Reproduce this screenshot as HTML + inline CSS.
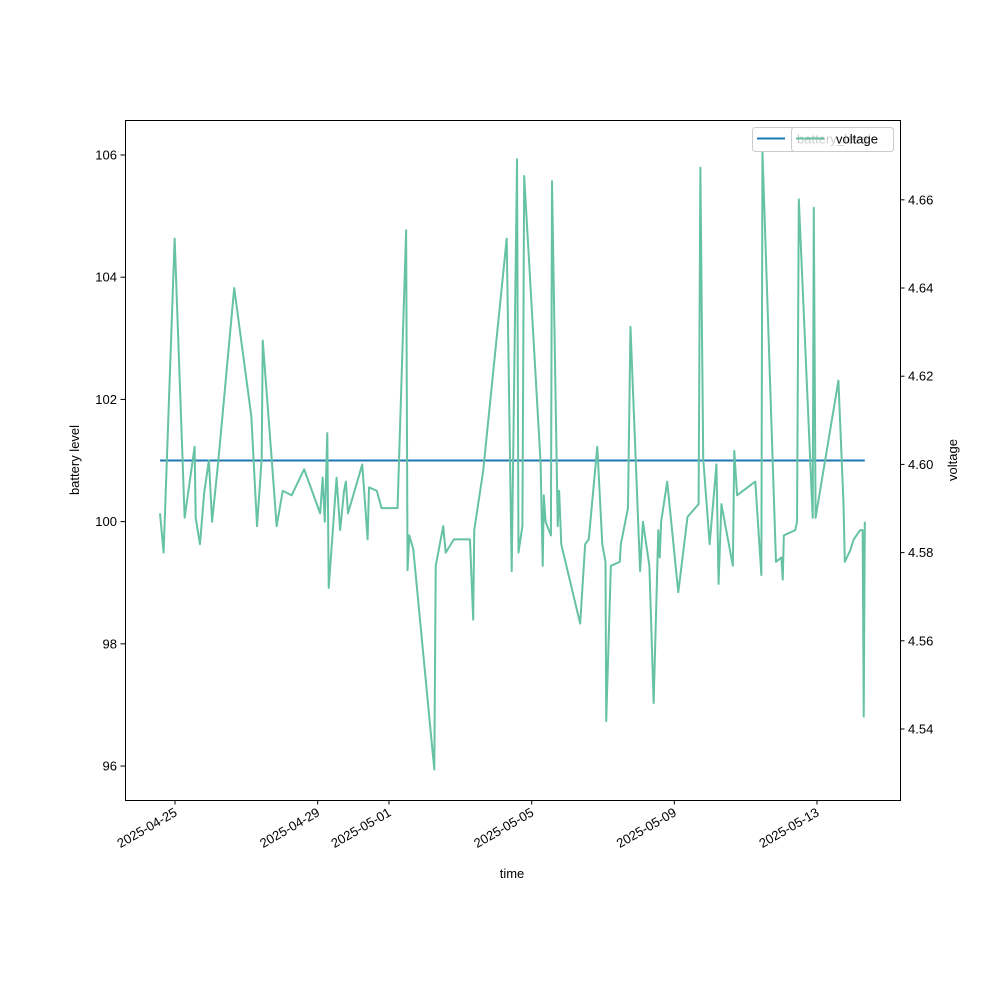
<!DOCTYPE html>
<html><head><meta charset="utf-8"><style>
html,body{margin:0;padding:0;background:#fff;}
svg{display:block;font-family:"Liberation Sans","DejaVu Sans",sans-serif;}
</style></head><body>
<svg id="chart" width="1000" height="1000" viewBox="0 0 1000 1000" xmlns="http://www.w3.org/2000/svg">
<rect x="0" y="0" width="1000" height="1000" fill="#fff"/>
<g id="plot"></g>
<rect x="125.5" y="120.5" width="775" height="680" fill="none" stroke="#000" stroke-width="1"/>
<text x="512" y="878" font-size="13" text-anchor="middle">time</text>
<text x="79" y="460" font-size="13" text-anchor="middle" transform="rotate(-90 79 460)">battery level</text>
<text x="957" y="460" font-size="13" text-anchor="middle" transform="rotate(-90 957 460)">voltage</text>
<g>
<rect x="752.5" y="127.5" width="141" height="24" rx="3" fill="#fff" fill-opacity="0.8" stroke="#ccc"/>
<line x1="757" y1="138.5" x2="785" y2="138.5" stroke="#1f77b4" stroke-width="2"/>
<text x="797" y="143.5" font-size="13" fill="#000">battery_level</text>
</g>
<g>
<rect x="791.5" y="127.5" width="102" height="24" rx="3" fill="#fff" fill-opacity="0.8" stroke="#ccc"/>
<line x1="796" y1="138.5" x2="824" y2="138.5" stroke="#66c2a5" stroke-width="2"/>
<text x="836" y="143.5" font-size="13" fill="#000">voltage</text>
</g>
</svg>
<script>
const days = [-0.42,-0.32,-0.01,0.27,0.55,0.58,0.70,0.82,0.95,1.04,1.22,1.66,2.14,2.30,2.43,2.46,2.71,2.85,3.02,3.27,3.62,4.07,4.14,4.20,4.27,4.31,4.53,4.63,4.74,4.79,4.85,5.25,5.40,5.44,5.66,5.79,6.24,6.48,6.52,6.57,6.68,7.27,7.31,7.52,7.59,7.82,8.27,8.36,8.39,8.64,9.30,9.44,9.59,9.63,9.74,9.79,10.25,10.31,10.34,10.39,10.54,10.57,10.73,10.77,10.83,11.36,11.50,11.60,11.84,11.98,12.07,12.09,12.22,12.47,12.50,12.70,12.77,13.04,13.12,13.30,13.42,13.55,13.59,13.63,13.80,14.11,14.37,14.68,14.73,14.81,14.99,15.18,15.24,15.32,15.64,15.68,15.76,16.27,16.44,16.47,16.85,17.00,17.04,17.07,17.39,17.44,17.49,17.88,17.91,17.96,18.60,18.74,18.78,18.93,19.03,19.21,19.28,19.31,19.34];
const voltage = [4.5889,4.5800,4.6512,4.5879,4.6040,4.5879,4.5819,4.5937,4.6009,4.5870,4.6013,4.6400,4.6109,4.5860,4.6013,4.6281,4.6013,4.5860,4.5940,4.5930,4.5989,4.5889,4.5970,4.5870,4.6071,4.5720,4.5970,4.5851,4.5940,4.5961,4.5889,4.6000,4.5830,4.5948,4.5940,4.5901,4.5901,4.6531,4.5760,4.5839,4.5808,4.5308,4.5770,4.5860,4.5800,4.5830,4.5830,4.5648,4.5851,4.5985,4.6512,4.5758,4.6692,4.5800,4.5860,4.6654,4.6004,4.5770,4.5930,4.5870,4.5839,4.6642,4.5860,4.5940,4.5819,4.5639,4.5819,4.5830,4.6040,4.5819,4.5779,4.5418,4.5770,4.5779,4.5819,4.5901,4.6312,4.5758,4.5870,4.5770,4.5459,4.5851,4.5789,4.5870,4.5961,4.5710,4.5881,4.5910,4.6673,4.6013,4.5819,4.6000,4.5729,4.5910,4.5770,4.6031,4.5930,4.5961,4.5749,4.6711,4.5779,4.5789,4.5739,4.5839,4.5851,4.5870,4.6601,4.5879,4.6582,4.5879,4.6190,4.5918,4.5779,4.5805,4.5830,4.5851,4.5851,4.5428,4.5870];
const batteryLevel = [101, 101];
const batteryDays = [-0.42, 19.34];
const xTickDays = [0, 4, 6, 10, 14, 18];
const xTickLabels = ["2025-04-25","2025-04-29","2025-05-01","2025-05-05","2025-05-09","2025-05-13"];
const leftTicks = [96, 98, 100, 102, 104, 106];
const rightTicks = [4.54, 4.56, 4.58, 4.60, 4.62, 4.64, 4.66];

const X0=125, X1=900, Y0=800, Y1=120;
const xDom=[-1.402, 20.327], lDom=[95.444, 106.573], rDom=[4.5239, 4.6781];
const xS = d => X0 + (d - xDom[0]) / (xDom[1]-xDom[0]) * (X1-X0);
const lS = v => Y0 - (v - lDom[0]) / (lDom[1]-lDom[0]) * (Y0-Y1);
const rS = v => Y0 - (v - rDom[0]) / (rDom[1]-rDom[0]) * (Y0-Y1);
const NS="http://www.w3.org/2000/svg";
const g=document.getElementById('plot');
function mk(tag, attrs){const e=document.createElementNS(NS,tag);for(const k in attrs)e.setAttribute(k,attrs[k]);g.appendChild(e);return e;}

xTickDays.forEach((d,i)=>{
  const x=xS(d);
  const t=mk('line',{x1:x,y1:800,x2:x,y2:804.5,stroke:'#000'});
  
  
  const tx=mk('text',{x:x+3,y:815,'font-size':13,'text-anchor':'end',transform:`rotate(-30 ${x+3} 815)`});
  tx.textContent=xTickLabels[i];
  
  
});
leftTicks.forEach(v=>{
  const y=lS(v);
  const t=mk('line',{x1:120.5,y1:y,x2:125,y2:y,stroke:'#000'});
  
  
  const tx=mk('text',{x:117,y:y+4.5,'font-size':13,'text-anchor':'end'});
  tx.textContent=String(v);
  
  
});
rightTicks.forEach(v=>{
  const y=rS(v);
  const t=mk('line',{x1:900,y1:y,x2:904.5,y2:y,stroke:'#000'});
  
  
  const tx=mk('text',{x:908,y:y+4.5,'font-size':13,'text-anchor':'start'});
  tx.textContent=v.toFixed(2);
  
  
});
const bl=mk('polyline',{points:batteryDays.map((d,i)=>xS(d)+','+lS(batteryLevel[i])).join(' '),fill:'none',stroke:'#1f77b4','stroke-width':2});


const vl=mk('polyline',{points:days.map((d,i)=>xS(d)+','+rS(voltage[i])).join(' '),fill:'none',stroke:'#66c2a5','stroke-width':2,'stroke-linejoin':'round'});


</script>
</body></html>
